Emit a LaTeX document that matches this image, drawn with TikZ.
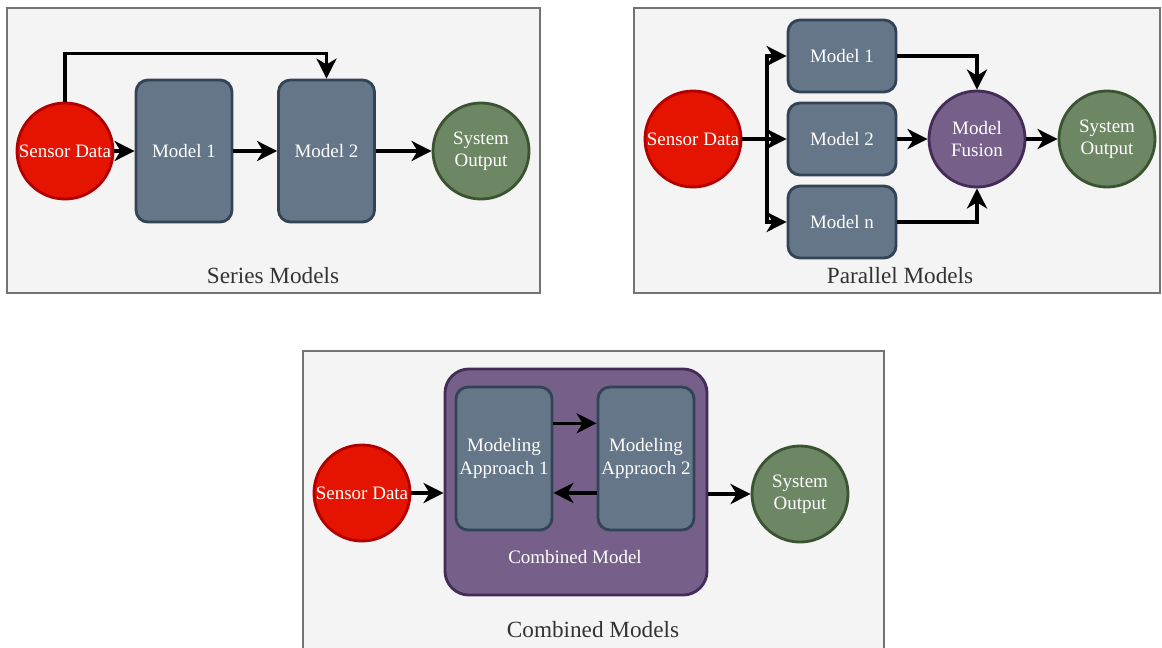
\documentclass[tikz,border=0pt]{standalone}
\usepackage{fontspec}
\setmainfont{Liberation Serif}
\usetikzlibrary{arrows.meta}
\definecolor{sensor red}{HTML}{E51400}
\definecolor{sensor rim}{HTML}{B20000}
\definecolor{model slate}{HTML}{647687}
\definecolor{model rim}{HTML}{314354}
\definecolor{output green}{HTML}{6D8764}
\definecolor{output rim}{HTML}{3A5431}
\definecolor{fusion purple}{HTML}{76608A}
\definecolor{fusion rim}{HTML}{432D57}
\definecolor{panel grey}{HTML}{F4F4F4}
\definecolor{panel rim}{HTML}{737373}
\definecolor{caption grey}{HTML}{333333}
\tikzset{
	blob/.style = {circle, minimum size=2.4cm, inner sep=0pt, line width=2pt,
		text=white, align=center, font=\fontsize{13.5}{16}\selectfont},
	sensor/.style = {blob, draw=sensor rim, fill=sensor red},
	output/.style = {blob, draw=output rim, fill=output green},
	fusion/.style = {blob, draw=fusion rim, fill=fusion purple},
	model/.style = {rectangle, rounded corners=0.3cm, draw=model rim, fill=model slate,
		line width=2pt, inner sep=0pt, text=white, align=center,
		font=\fontsize{13.5}{16}\selectfont},
	flow/.style = {line width=2.5pt, -{Stealth[length=0.5cm, width=0.5cm, inset=0.15cm]}},
	panel/.style = {draw=panel rim, fill=panel grey, line width=1.6pt},
	caption/.style = {text=caption grey, font=\fontsize{16.5}{20}\selectfont}
}

\begin{document}
\begin{tikzpicture}[x=0.025cm, y=-0.025cm]
			\useasboundingbox (0, 0) rectangle (1162, 647);
			% series panel
			\draw[panel] (7, 8) rectangle (540, 293);
			\node[caption] (cap1) at (273, 276) {Series Models};
			\node[sensor] (sens1) at (65, 151) {Sensor Data};
			\node[model, minimum width=2.4cm, minimum height=3.55cm] (m1) at (184, 151) {Model 1};
			\node[model, minimum width=2.4cm, minimum height=3.55cm] (m2) at (326.5, 151) {Model 2};
			\node[output] (out1) at (481, 151) {System\\Output};
			\draw[flow] (sens1) -- (m1);
			\draw[flow] (m1) -- (m2);
			\draw[flow] (m2) -- (out1);
			\draw[flow] (sens1.north) -- ++(0, 1.2cm) -| (m2.north);
			% parallel panel
			\draw[panel] (634, 8) rectangle (1160, 293);
			\node[caption] (cap2) at (900, 276) {Parallel Models};
			\node[sensor] (sens2) at (693, 139) {Sensor Data};
			\node[model, minimum width=2.7cm, minimum height=1.8cm] (p1) at (842, 56) {Model 1};
			\node[model, minimum width=2.7cm, minimum height=1.8cm] (p2) at (842, 139) {Model 2};
			\node[model, minimum width=2.7cm, minimum height=1.8cm] (pn) at (842, 222) {Model n};
			\node[fusion] (fus) at (977, 139) {Model\\Fusion};
			\node[output] (out2) at (1107, 139) {System\\Output};
			\draw[flow] (sens2) -- (p2);
			\draw[flow] (sens2.east) -- ++(0.62cm, 0) |- (p1);
			\draw[flow] (sens2.east) -- ++(0.62cm, 0) |- (pn);
			\draw[flow] (p1) -| (fus);
			\draw[flow] (p2) -- (fus);
			\draw[flow] (pn) -| (fus);
			\draw[flow] (fus) -- (out2);
			% combined panel
			\draw[panel] (303, 351) rectangle (884, 652);
			\node[caption] (cap3) at (593, 630) {Combined Models};
			\node[sensor] (sens3) at (362, 493) {Sensor Data};
			\node[rectangle, rounded corners=0.6cm, draw=fusion rim, fill=fusion purple,
				line width=2pt, minimum width=6.55cm, minimum height=5.65cm] (comb) at (576, 482) {};
			\node[text=white, font=\fontsize{13.5}{16}\selectfont] (combtxt) at (575, 557) {Combined Model};
			\node[model, minimum width=2.4cm, minimum height=3.575cm] (ap1) at (504, 458.5) {Modeling\\Approach 1};
			\node[model, minimum width=2.4cm, minimum height=3.575cm] (ap2) at (646, 458.5) {Modeling\\Appraoch 2};
			\node[output] (out3) at (800, 494) {System\\Output};
			\draw[flow] ([yshift=0.88cm]ap1.east) -- ([yshift=0.88cm]ap2.west);
			\draw[flow] ([yshift=-0.86cm]ap2.west) -- ([yshift=-0.86cm]ap1.east);
			\draw[flow] (sens3) -- (sens3 -| comb.west);
			\draw[flow] (comb.east |- out3) -- (out3);
		\end{tikzpicture}
\end{document}
